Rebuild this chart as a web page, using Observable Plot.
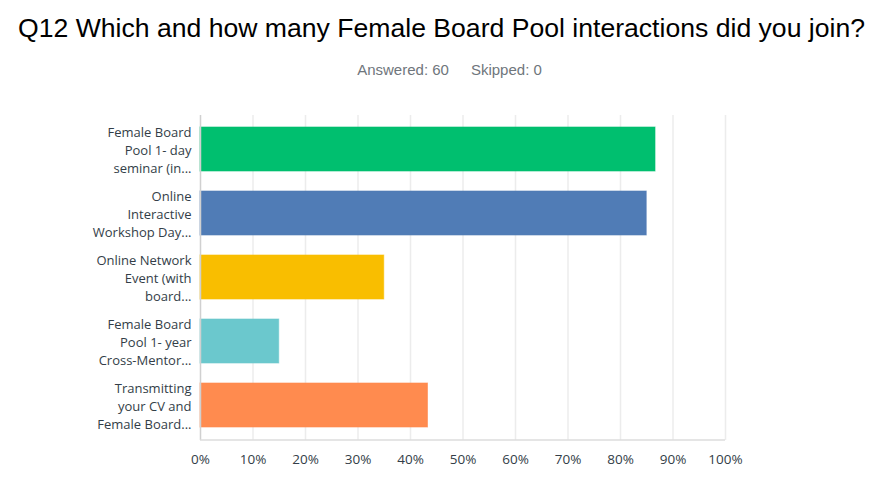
<!DOCTYPE html>
<html>
<head>
<meta charset="utf-8">
<script src="https://cdn.jsdelivr.net/npm/d3@7"></script>
<script src="https://cdn.jsdelivr.net/npm/@observablehq/plot@0.6"></script>
<style>
  body { margin: 0; background: #fff; width: 883px; }
  #title { font-family: "Liberation Sans", Arial, sans-serif; font-size: 26.6px; color: #000; text-align: center; height: 56px; line-height: 56px; white-space: nowrap; }
  #sub { font-family: "Liberation Sans", Arial, sans-serif; font-size: 15px; color: #6f767c; text-align: center; height: 28px; line-height: 28px; padding-left: 16px; }
  #sub span { margin: 0 11px; }
</style>
</head>
<body>
<div id="title">Q12 Which and how many Female Board Pool interactions did you join?</div>
<div id="sub"><span>Answered: 60</span><span>Skipped: 0</span></div>
<div id="chart"></div>
<script>
const categories = [
  "Female Board\nPool 1- day\nseminar (in...",
  "Online\nInteractive\nWorkshop Day...",
  "Online Network\nEvent (with\nboard...",
  "Female Board\nPool 1- year\nCross-Mentor...",
  "Transmitting\nyour CV and\nFemale Board..."
];
const percents = [86.67, 85.0, 35.0, 15.0, 43.33];
const colors = ["#00BF6F", "#507CB6", "#F9BE00", "#6BC8CD", "#FF8B4F"];
const xTicks = [0, 10, 20, 30, 40, 50, 60, 70, 80, 90, 100];

const data = categories.map((c, i) => ({category: c, value: percents[i], color: colors[i]}));

// baseline along the bottom of the plot frame
const baseline = (index, scales, values, dims) => {
  const g = d3.create("svg:line")
    .attr("x1", dims.marginLeft)
    .attr("x2", dims.width - dims.marginRight)
    .attr("y1", dims.height - dims.marginBottom)
    .attr("y2", dims.height - dims.marginBottom)
    .attr("stroke", "#dcdcdc")
    .attr("stroke-width", 1.5);
  return g.node();
};

const chart = Plot.plot({
  width: 883,
  height: 416,
  marginTop: 31,
  marginBottom: 60,
  marginLeft: 200,
  marginRight: 158,
  style: {fontFamily: "'Open Sans', sans-serif", fontSize: "13px", color: "#333e48"},
  x: {domain: [0, 100], ticks: xTicks},
  y: {domain: categories, paddingInner: 0.3077, paddingOuter: 0.154},
  marks: [
    Plot.ruleX(xTicks.slice(1), {stroke: "#ececec", strokeWidth: 1.5, strokeOpacity: 1}),
    Plot.barX(data, {x: "value", y: "category", fill: "color", stroke: "color", strokeOpacity: 0.6}),
    Plot.ruleX([0], {stroke: "#d0d0d0", strokeWidth: 1.5}),
    baseline,
    Plot.axisX({ticks: xTicks, tickSize: 0, tickPadding: 14, tickFormat: d => d + "%", label: null, fill: "#333e48", fontSize: 13.5}),
    Plot.axisY({tickSize: 0, tickPadding: 9, label: null, lineHeight: 1.38, fill: "#333e48", fontSize: 13})
  ]
});
document.getElementById("chart").appendChild(chart);
</script>
</body>
</html>
